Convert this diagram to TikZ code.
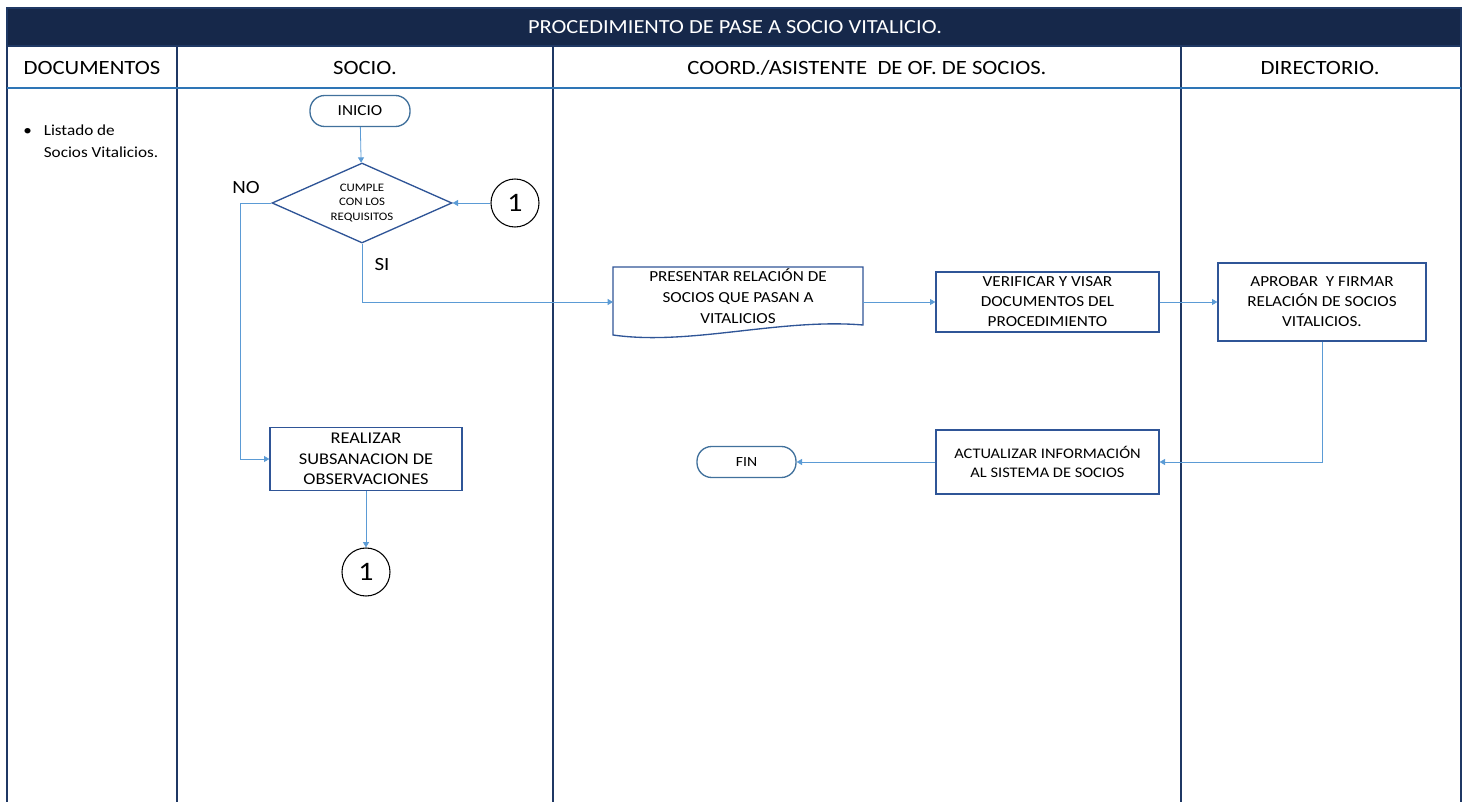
\documentclass[tikz,border=0pt]{standalone}
\usepackage{fontspec}
\setmainfont{Carlito}[FakeStretch=1.12]
\usepackage{tikz}
\usetikzlibrary{shapes.geometric,arrows.meta}

\begin{document}
\begin{tikzpicture}[x=0.75pt,y=0.75pt,yscale=-1,xscale=1,
    procbox/.style={draw={rgb, 255:red, 47; green, 85; blue, 151 },line width=1pt,fill=white,align=center,inner sep=0.75pt,font=\fontsize{11.5}{15}\selectfont},
    termbox/.style={draw={rgb, 255:red, 65; green, 113; blue, 156 },line width=1pt,fill=white,rounded corners=11pt,inner sep=0.75pt,minimum height=23.25pt},
    joinc/.style={draw,circle,line width=0.8pt,minimum size=36pt,inner sep=0pt,font=\fontsize{20}{20}\selectfont},
    conn/.style={draw={rgb, 255:red, 91; green, 155; blue, 213 },line width=0.6pt,-{Triangle[width=4.5pt,length=4pt]}},
    lane/.style={draw={rgb, 255:red, 31; green, 56; blue, 100 },line width=1.2pt}
]
        \useasboundingbox (0,0) rectangle (1470,802);

        %Shape: Rectangle [title bar]
        \draw [lane, fill={rgb, 255:red, 22; green, 40; blue, 74 }] (7,8) rectangle (1461,46) ;
        %Straight Lines [lanes]
        \draw [lane] (7,46) -- (7,802) ;
        \draw [lane] (177,46) -- (177,802) ;
        \draw [lane] (553,46) -- (553,802) ;
        \draw [lane] (1181,46) -- (1181,802) ;
        \draw [lane] (1461,46) -- (1461,802) ;
        %Straight Lines [header row]
        \draw [color={rgb, 255:red, 46; green, 117; blue, 182 }, line width=1.5pt] (7,88) -- (1461,88) ;

        % Text Node
        \draw (735,27) node [text=white, font=\fontsize{15}{15}\selectfont] (title) {PROCEDIMIENTO DE PASE A SOCIO VITALICIO.};
        % Text Node
        \draw (92,68) node [font=\fontsize{15.2}{15}\selectfont] (hdoc) {DOCUMENTOS};
        % Text Node
        \draw (365,68) node [font=\fontsize{15.2}{15}\selectfont] (hsocio) {SOCIO.};
        % Text Node
        \draw (867,68) node [font=\fontsize{15.2}{15}\selectfont] (hcoord) {COORD./ASISTENTE~ DE OF. DE SOCIOS.};
        % Text Node
        \draw (1320,68) node [font=\fontsize{15.2}{15}\selectfont] (hdir) {DIRECTORIO.};
        % Text Node
        \draw (22,124) node [anchor=north west, align=left, inner sep=0.75pt, font=\fontsize{11.5}{16.5}\selectfont] (docs) {\textbullet\hspace{9pt}Listado de\\\hphantom{\textbullet\hspace{9pt}}Socios Vitalicios.};

        %Shape: Terminator
        \draw (360,111) node [termbox, minimum width=75pt, font=\fontsize{11.5}{12}\selectfont] (inicio) {INICIO};
        %Shape: Diamond
        \draw (362,203) node [draw={rgb, 255:red, 47; green, 85; blue, 151 }, line width=1pt, diamond, aspect=2.25, minimum width=135pt, minimum height=60pt, inner sep=0pt, align=center, font=\fontsize{8.6}{11}\selectfont] (cumple) {CUMPLE\\CON LOS\\REQUISITOS};
        %Shape: Circle
        \draw (515,203) node [joinc] (unoa) {1};
        %Shape: Rectangle
        \draw (366,459) node [procbox, minimum width=144pt, minimum height=47.25pt, font=\fontsize{12.3}{15.5}\selectfont] (realizar) {REALIZAR\\SUBSANACION DE\\OBSERVACIONES};
        %Shape: Circle
        \draw (366,572) node [joinc] (unob) {1};

        %Shape: Document
        \draw [draw={rgb, 255:red, 47; green, 85; blue, 151 }, line width=1pt] (613,335) -- (613,267) -- (863,267) -- (863,325) .. controls (780,318) and (690,346) .. (613,335) -- cycle ;
        \draw (738,296) node [align=center, inner sep=0.75pt, font=\fontsize{11.5}{15.5}\selectfont] (pres) {PRESENTAR RELACIÓN DE\\SOCIOS QUE PASAN A\\VITALICIOS};
        \coordinate (presin) at (613,302);
        \coordinate (presout) at (863,302);
        %Shape: Rectangle
        \draw (1047.5,302) node [procbox, minimum width=167.25pt, minimum height=45pt] (verif) {VERIFICAR Y VISAR\\DOCUMENTOS DEL\\PROCEDIMIENTO};
        %Shape: Rectangle
        \draw (1322,302) node [procbox, minimum width=156pt, minimum height=58.5pt] (apro) {APROBAR~ Y FIRMAR\\RELACIÓN DE SOCIOS\\VITALICIOS.};
        %Shape: Rectangle
        \draw (1047.5,462) node [procbox, minimum width=167.25pt, minimum height=48pt, font=\fontsize{11}{14.5}\selectfont] (actu) {ACTUALIZAR INFORMACIÓN\\AL SISTEMA DE SOCIOS};
        %Shape: Terminator
        \draw (746.5,462) node [termbox, minimum width=74.25pt, font=\fontsize{10.5}{11}\selectfont] (fin) {FIN};

        % Text Node
        \draw (246,188) node [font=\fontsize{14}{14}\selectfont] (lno) {NO};
        % Text Node
        \draw (382,265) node [font=\fontsize{14}{14}\selectfont] (lsi) {SI};

        %Connectors
        \coordinate (noturn) at (240,203);
        \draw [conn] (inicio) -- (cumple) ;
        \draw [conn] (unoa) -- (cumple.east) ;
        \draw [conn] (cumple.west) -- (noturn) |- (realizar.west) ;
        \draw [conn] (cumple.south) |- (presin) ;
        \draw [conn] (presout) -- (verif.west) ;
        \draw [conn] (verif.east) -- (apro.west) ;
        \draw [conn] (apro.south) |- (actu.east) ;
        \draw [conn] (actu.west) -- (fin.east) ;
        \draw [conn] (realizar) -- (unob) ;

\end{tikzpicture}
\end{document}
